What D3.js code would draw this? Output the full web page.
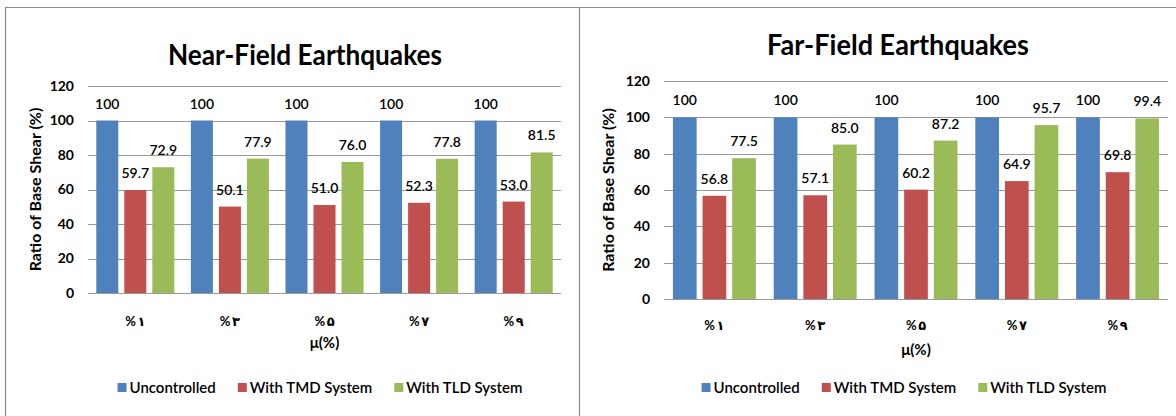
<!DOCTYPE html>
<html>
<head>
<meta charset="utf-8">
<script src="https://cdn.jsdelivr.net/npm/d3@7"></script>
<style>
  html, body { margin: 0; padding: 0; background: #fff; }
  svg { display: block; }
  text { font-family: Lato, "DejaVu Sans", sans-serif; fill: #000; }
</style>
</head>
<body>
<svg id="chart" width="1176" height="416"></svg>
<script>
// ---- data ----
const categories = ["%\u2009\u06F1", "%\u2009\u06F3", "%\u2009\u06F5", "%\u2009\u06F7", "%\u2009\u06F9"];
const seriesNames = ["Uncontrolled", "With TMD System", "With TLD System"];
const seriesColors = ["#4F81BD", "#C0504D", "#9BBB59"];
const nearUncontrolled = [100, 100, 100, 100, 100];
const nearTMD = [59.7, 50.1, 51.0, 52.3, 53.0];
const nearTLD = [72.9, 77.9, 76.0, 77.8, 81.5];
const farUncontrolled = [100, 100, 100, 100, 100];
const farTMD = [56.8, 57.1, 60.2, 64.9, 69.8];
const farTLD = [77.5, 85.0, 87.2, 95.7, 99.4];
const yTicks = [0, 20, 40, 60, 80, 100, 120];
const labelFormats = [d3.format("d"), d3.format(".1f"), d3.format(".1f")];
const yTitle = "Ratio of Base Shear (%)";
const xTitle = "\u03BC(%)";

const svg = d3.select("#chart");

// panel frame lines
const frame = svg.append("g").attr("stroke", "#8a8a8a").attr("stroke-width", 1.2).attr("fill", "none");
frame.append("line").attr("x1", 5).attr("x2", 1176).attr("y1", 7.5).attr("y2", 7.5);
frame.append("line").attr("x1", 5.5).attr("x2", 5.5).attr("y1", 7).attr("y2", 416);
frame.append("line").attr("x1", 579.5).attr("x2", 579.5).attr("y1", 7).attr("y2", 416);

function drawPanel(cfg) {
  const g = svg.append("g");
  const series = cfg.series;
  const x = d3.scaleBand().domain(categories).range([cfg.x0, cfg.x1])
    .paddingInner(cfg.pad).paddingOuter(cfg.pad / 2);
  const xs = d3.scaleBand().domain(d3.range(series.length)).range([0, x.bandwidth()])
    .paddingInner(cfg.subPad).paddingOuter(0);
  const y = d3.scaleLinear().domain([0, 120]).range([cfg.y0, cfg.y1]);

  // gridlines
  g.append("g").selectAll("line").data(yTicks).join("line")
    .attr("x1", cfg.x0).attr("x2", cfg.x1)
    .attr("y1", d => Math.round(y(d)) + 0.5).attr("y2", d => Math.round(y(d)) + 0.5)
    .attr("stroke", "#9a9a9a").attr("stroke-width", 1);

  // y axis labels
  const yAxis = d3.axisLeft(y).tickValues(yTicks).tickSize(0).tickPadding(14);
  const ya = g.append("g").attr("transform", `translate(${cfg.x0},0)`).call(yAxis);
  ya.select(".domain").remove();
  ya.selectAll("text").attr("font-size", 14).attr("font-weight", "bold")
    .attr("font-family", "Lato, sans-serif");

  // bars
  const groups = g.append("g").selectAll("g").data(categories).join("g")
    .attr("transform", d => `translate(${x(d)},0)`);
  groups.selectAll("rect").data((d, i) => series.map((s, k) => ({k, v: s[i]}))).join("rect")
    .attr("x", d => xs(d.k)).attr("width", xs.bandwidth())
    .attr("y", d => y(d.v)).attr("height", d => y(0) - y(d.v))
    .attr("fill", d => seriesColors[d.k]);
  groups.selectAll("text").data((d, i) => series.map((s, k) => ({k, v: s[i]}))).join("text")
    .attr("x", d => xs(d.k) + xs.bandwidth() / 2).attr("y", d => y(d.v) - 12)
    .attr("text-anchor", "middle").attr("font-size", 14).attr("font-weight", 600)
    .text(d => labelFormats[d.k](d.v));

  // x axis
  const xAxis = d3.axisBottom(x).tickSize(0).tickPadding(cfg.xTickPad);
  const xa = g.append("g").attr("transform", `translate(0,${cfg.y0})`).call(xAxis);
  xa.select(".domain").remove();
  xa.selectAll("text").attr("font-size", 13).attr("font-weight", "bold")
    .attr("font-family", "Lato, DejaVu Sans, sans-serif");

  // titles
  g.append("text").attr("x", cfg.titleX).attr("y", cfg.titleY).attr("text-anchor", "middle")
    .attr("font-size", 28).attr("font-weight", "bold")
    .attr("textLength", cfg.titleW).attr("lengthAdjust", "spacingAndGlyphs").text(cfg.title);
  g.append("text").attr("transform", `translate(${cfg.yTitleX},${(cfg.y0 + cfg.y1) / 2}) rotate(-90)`)
    .attr("text-anchor", "middle").attr("font-size", 16).attr("font-weight", "bold")
    .text(yTitle);
  g.append("text").attr("x", (cfg.x0 + cfg.x1) / 2).attr("y", cfg.xTitleY).attr("text-anchor", "middle")
    .attr("font-size", 15).attr("font-weight", "bold").text(xTitle);

  // legend
  const lg = g.append("g");
  let cx = 0;
  seriesNames.forEach((name, k) => {
    const it = lg.append("g").attr("transform", `translate(${cx},0)`);
    it.append("rect").attr("x", 0).attr("y", -10).attr("width", 9).attr("height", 9).attr("fill", seriesColors[k]);
    const t = it.append("text").attr("x", 12).attr("y", 0).attr("font-size", 15).attr("font-weight", 600).text(name);
    cx += 12 + t.node().getComputedTextLength() + 22;
  });
  const total = cx - 22;
  lg.attr("transform", `translate(${cfg.legendCX - total / 2},${cfg.legendY})`);
}

drawPanel({
  series: [nearUncontrolled, nearTMD, nearTLD],
  title: "Near-Field Earthquakes", titleW: 274,
  x0: 88, x1: 561, y0: 293, y1: 86, pad: 0.175, subPad: 0.214,
  titleX: 305, titleY: 65, yTitleX: 41, xTitleY: 348, xTickPad: 24,
  legendCX: 320, legendY: 393
});
drawPanel({
  series: [farUncontrolled, farTMD, farTLD],
  title: "Far-Field Earthquakes", titleW: 262,
  x0: 664, x1: 1168, y0: 299, y1: 81, pad: 0.177, subPad: 0.2,
  titleX: 898, titleY: 55, yTitleX: 614, xTitleY: 355, xTickPad: 22,
  legendCX: 904, legendY: 393
});
</script>
</body>
</html>
